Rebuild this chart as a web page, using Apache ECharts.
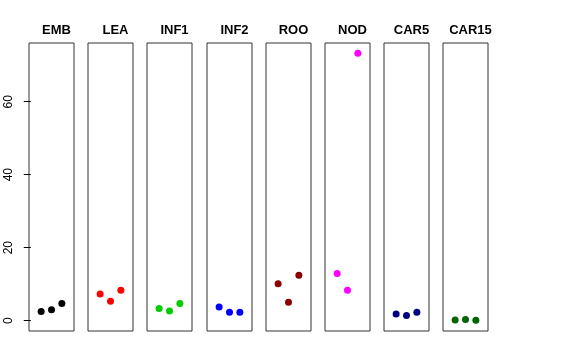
<!DOCTYPE html>
<html><head><meta charset="utf-8">
<script src="https://cdn.jsdelivr.net/npm/echarts@6/dist/echarts.min.js"></script>
<style>html,body{margin:0;padding:0;background:#fff}#c{width:576px;height:360px}</style>
</head><body><div id="c"></div>
<script>
var categories = ['EMB','LEA','INF1','INF2','ROO','NOD','CAR5','CAR15'];
var colors = ['#000000','#FF0000','#00CD00','#0000FF','#8B0000','#FF00FF','#000080','#006400'];
var EMB = [2.5, 3.0, 4.7];
var LEA = [7.3, 5.3, 8.3];
var INF1 = [3.3, 2.6, 4.7];
var INF2 = [3.7, 2.3, 2.3];
var ROO = [10.1, 5.0, 12.4];
var NOD = [12.9, 8.3, 73.3];
var CAR5 = [1.8, 1.4, 2.3];
var CAR15 = [0.16, 0.27, 0.08];
var yTicks = [0, 20, 40, 60];
var seriesValues = [EMB, LEA, INF1, INF2, ROO, NOD, CAR5, CAR15];

var lefts = [29, 88, 147, 207, 266, 325, 384, 443];
var W = 45, TOP = 43, H = 288;
var yMin = -2.85, yMax = 76.1;

var grids = [], xAxes = [], yAxes = [], series = [], titles = [];
categories.forEach(function(name, i){
  grids.push({left: lefts[i], top: TOP, width: W, height: H, show: true,
    borderColor: '#333', borderWidth: 1, backgroundColor: 'transparent'});
  xAxes.push({type: 'value', gridIndex: i, min: -0.17, max: 4.17, show: false});
  var first = i === 0;
  yAxes.push({type: 'value', gridIndex: i, min: yMin, max: yMax, show: first,
    splitLine: {show: false},
    axisLine: {show: false},
    axisTick: {show: first, length: 7, inside: false, customValues: yTicks, lineStyle: {color: '#000'}},
    axisLabel: {show: first, customValues: yTicks, rotate: 90, margin: 14, color: '#000',
      fontSize: 12, fontFamily: 'Liberation Sans, Arial, sans-serif'}});
  series.push({type: 'scatter', xAxisIndex: i, yAxisIndex: i, symbolSize: 7,
    itemStyle: {color: colors[i], opacity: 1},
    data: seriesValues[i].map(function(v, j){ return [j + 1, v]; })});
  titles.push({text: name, left: lefts[i] + W / 2, top: 19, textAlign: 'center',
    textStyle: {fontSize: 13, fontWeight: 'bold', color: '#000', fontFamily: 'Liberation Sans, Arial, sans-serif'}});
});

var chart = echarts.init(document.getElementById('c'), null, {renderer: 'canvas'});
chart.setOption({animation: false, title: titles, grid: grids, xAxis: xAxes, yAxis: yAxes, series: series});
</script></body></html>
